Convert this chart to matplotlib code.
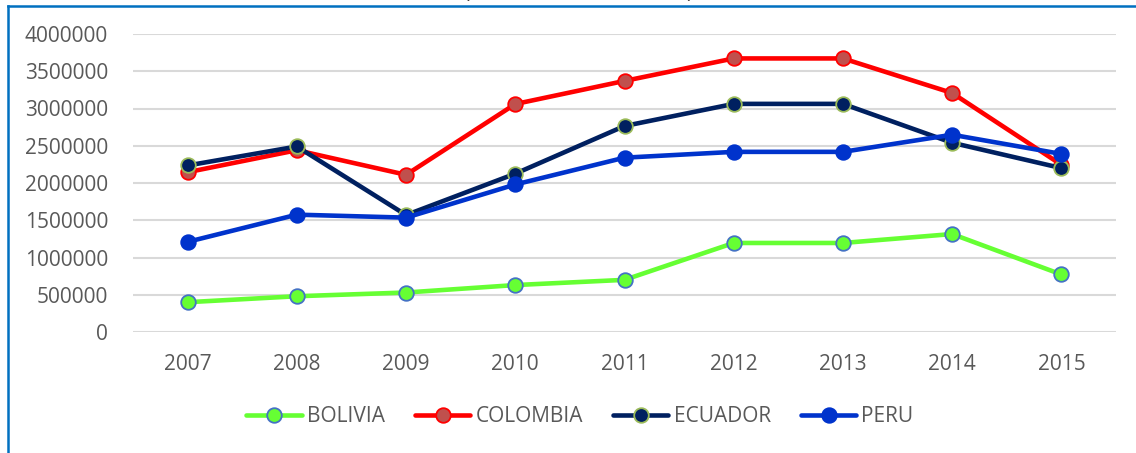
import matplotlib
matplotlib.use("Agg")
import matplotlib.pyplot as plt
from matplotlib.lines import Line2D

years = ["2007", "2008", "2009", "2010", "2011", "2012", "2013", "2014", "2015"]
bolivia = [400000, 480000, 530000, 630000, 700000, 1195000, 1195000, 1315000, 772000]
colombia = [2145000, 2440000, 2110000, 3060000, 3370000, 3672000, 3672000, 3208000, 2245000]
ecuador = [2235000, 2490000, 1570000, 2125000, 2765000, 3062000, 3062000, 2540000, 2200000]
peru = [1210000, 1575000, 1535000, 1980000, 2340000, 2418000, 2418000, 2648000, 2390000]
series_names = ["BOLIVIA", "COLOMBIA", "ECUADOR", "PERU"]
yticks = [0, 500000, 1000000, 1500000, 2000000, 2500000, 3000000, 3500000, 4000000]

plt.rcParams['font.family'] = ['Open Sans', 'DejaVu Sans']

fig = plt.figure(figsize=(11.36, 4.53), dpi=100)
ax = fig.add_axes([133/1136, 1-332/453, (1116-133)/1136, (332-34)/453])

styles = [
    dict(color="#66FF33", mfc="#66FF33", mec="#4472C4"),
    dict(color="#FF0000", mfc="#C0504D", mec="#FF0000"),
    dict(color="#002060", mfc="#002060", mec="#9BBB59"),
    dict(color="#0033CC", mfc="#0033CC", mec="#0033CC"),
]
x = list(range(len(years)))
for name, vals, st in zip(series_names, [bolivia, colombia, ecuador, peru], styles):
    ax.plot(x, vals, color=st["color"], lw=3.3, marker="o", markersize=10.5,
            markerfacecolor=st["mfc"], markeredgecolor=st["mec"], markeredgewidth=1.3,
            label=name, solid_capstyle="round")

ax.set_xlim(-0.5, len(years) - 0.5)
ax.set_ylim(0, 4000000)
ax.set_xticks(x)
ax.set_xticklabels(years)
ax.set_yticks(yticks)
ax.set_yticklabels([str(v) for v in yticks])
ax.tick_params(axis="both", length=0, labelsize=15, labelcolor="#595959")
ax.tick_params(axis="x", pad=16)
ax.tick_params(axis="y", pad=18)
ax.grid(axis="y", color="#D9D9D9", lw=1.5)
ax.set_axisbelow(True)
for s in ax.spines.values():
    s.set_visible(False)

leg = fig.legend(loc="center", bbox_to_anchor=(580/1136, 1-417/453), ncol=4,
                 frameon=False, fontsize=15, handlelength=2.65, handletextpad=0.25,
                 columnspacing=1.45, labelcolor="#595959")

# outer chart frame (partially cropped)
fig.add_artist(Line2D([8/1136, 8/1136], [0, 1-5.5/453], transform=fig.transFigure,
                      color="#0070C0", lw=1.8))
fig.add_artist(Line2D([8/1136, 1], [1-5.5/453, 1-5.5/453], transform=fig.transFigure,
                      color="#0070C0", lw=1.8))
# cropped title fragments
fig.text(466/1136, 1+2/453, "(", fontsize=15, color="#404040", ha="center", va="baseline")
fig.text(689/1136, 1+2/453, ")", fontsize=15, color="#404040", ha="center", va="baseline")

fig.savefig("out.png", dpi=100)
